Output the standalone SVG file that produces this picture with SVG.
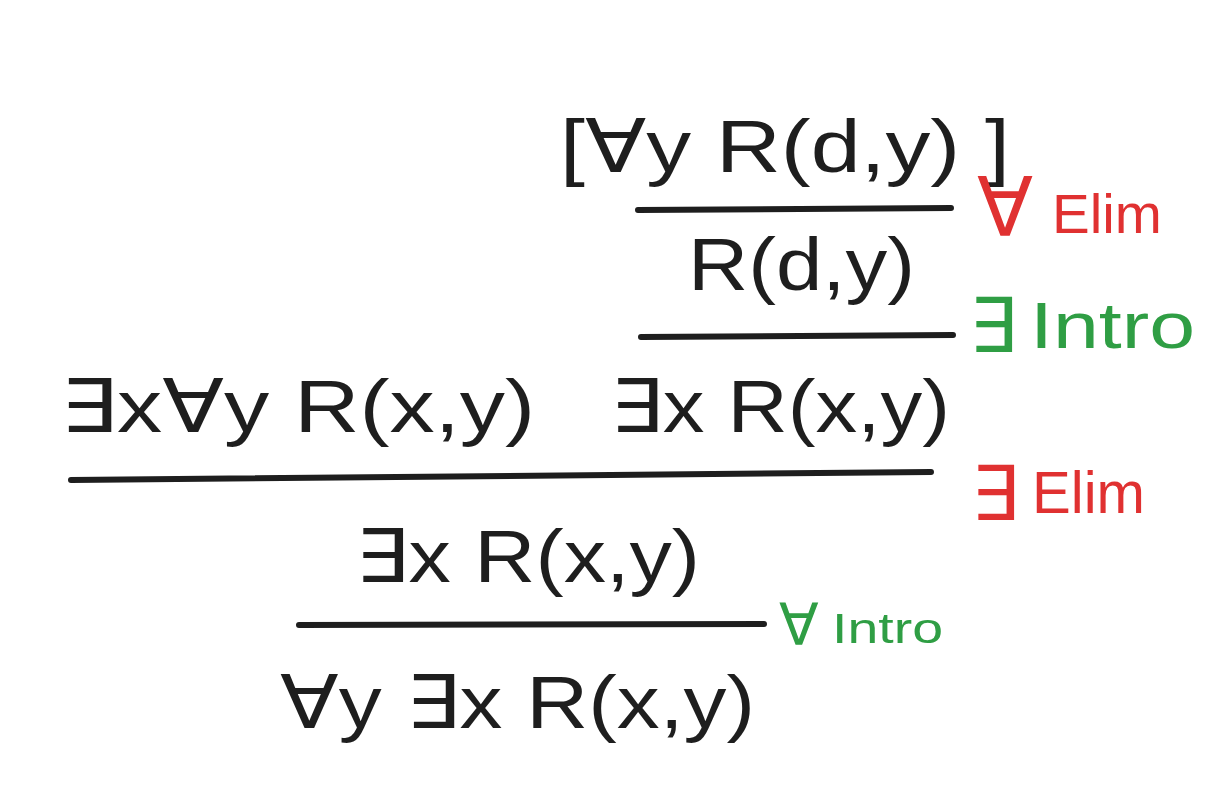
<svg xmlns="http://www.w3.org/2000/svg" width="1221" height="793" viewBox="0 0 1221 793">
<style>
.f{font-family:"Liberation Sans","DejaVu Sans",sans-serif;fill:#1e1e1e;font-size:74px}
.r{font-family:"Liberation Sans","DejaVu Sans",sans-serif;fill:#e03131}
.g{font-family:"Liberation Sans","DejaVu Sans",sans-serif;fill:#2f9e44}
.ln{stroke:#1e1e1e;stroke-width:6;stroke-linecap:round;fill:none}
</style>
<rect width="1221" height="793" fill="#ffffff"/>
<g id="connectors">
<line class="ln" x1="638" y1="210" x2="951" y2="208"/>
<line class="ln" x1="641" y1="337" x2="953" y2="335"/>
<line class="ln" x1="71" y1="480" x2="931" y2="472"/>
<line class="ln" x1="299" y1="625" x2="764" y2="624"/>
</g>
<g id="n1"><text class="f" x="560" y="172" textLength="450" lengthAdjust="spacingAndGlyphs">[∀y R(d,y) ]</text></g>
<g id="n2"><text class="f" x="688" y="290" textLength="227" lengthAdjust="spacingAndGlyphs">R(d,y)</text></g>
<g id="n3"><text class="f" x="60" y="432" textLength="475" lengthAdjust="spacingAndGlyphs">∃x∀y R(x,y)</text></g>
<g id="n4"><text class="f" x="610" y="432" textLength="340" lengthAdjust="spacingAndGlyphs">∃x R(x,y)</text></g>
<g id="n5"><text class="f" x="355" y="582" textLength="345" lengthAdjust="spacingAndGlyphs">∃x R(x,y)</text></g>
<g id="n6"><text class="f" x="280" y="728" textLength="475" lengthAdjust="spacingAndGlyphs">∀y ∃x R(x,y)</text></g>
<g id="l1"><text class="r" x="977" y="236"><tspan font-size="82">∀</tspan><tspan x="1052" y="233" font-size="56" textLength="110" lengthAdjust="spacingAndGlyphs">Elim</tspan></text></g>
<g id="l2"><text class="g" x="969" y="352"><tspan font-size="76">∃</tspan><tspan x="1030" y="348" font-size="64" textLength="165" lengthAdjust="spacingAndGlyphs">Intro</tspan></text></g>
<g id="l3"><text class="r" x="971" y="520"><tspan font-size="76">∃</tspan><tspan x="1032" y="513" font-size="60" textLength="113" lengthAdjust="spacingAndGlyphs">Elim</tspan></text></g>
<g id="l4"><text class="g" x="779" y="645"><tspan font-size="58">∀</tspan><tspan x="832" y="643" font-size="43" textLength="111" lengthAdjust="spacingAndGlyphs">Intro</tspan></text></g>
</svg>
